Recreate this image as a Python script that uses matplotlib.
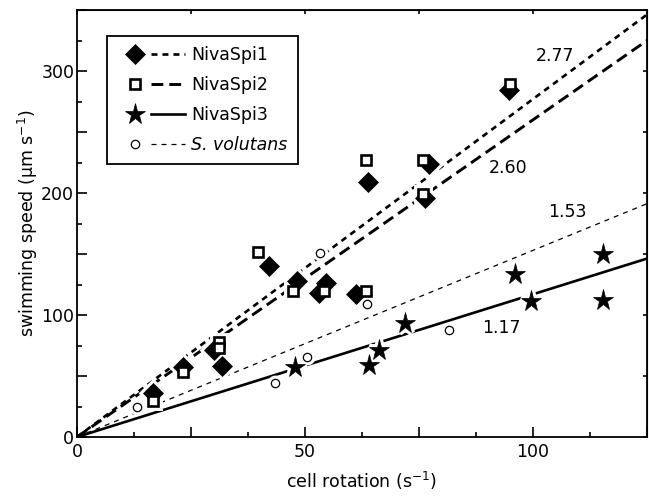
import numpy as np
import matplotlib
matplotlib.use("Agg")
import matplotlib.pyplot as plt
from matplotlib.ticker import MultipleLocator, FuncFormatter
from matplotlib.lines import Line2D
from matplotlib.legend_handler import HandlerTuple

plt.rcParams['font.family'] = ['DejaVu Sans']
plt.rcParams['mathtext.default'] = 'regular'
plt.rcParams['lines.scale_dashes'] = False

# data
spi1_x = [16.7, 23.3, 30.1, 31.7, 42.2, 48.3, 54.7, 53.1, 61.2, 63.8, 77.2, 76.3, 94.7]
spi1_y = [35.9, 57.2, 71.5, 58.3, 139.9, 127.6, 126.3, 118, 117.5, 209, 223.5, 196, 284.6]

spi2_x = [16.7, 23.3, 31.2, 31.2, 39.6, 47.3, 54.1, 63.4, 63.3, 75.9, 75.9, 94.9]
spi2_y = [29.8, 52.9, 78, 73, 151.4, 119.4, 119.4, 119.4, 227, 227, 199.4, 289.2]

spi3_x = [47.8, 64, 66.2, 72, 96, 99.5, 115.4, 115.4]
spi3_y = [57.5, 59.2, 71.5, 93.4, 133.7, 111.7, 150.1, 112.6]

svol_x = [13.1, 43.5, 50.4, 53.3, 63.6, 81.5]
svol_y = [24.9, 44.4, 65.7, 150.9, 109, 87.4]

names = ['NivaSpi1', 'NivaSpi2', 'NivaSpi3', 'S. volutans']
slopes = [2.77, 2.60, 1.17, 1.53]
slope_labels = ['2.77', '2.60', '1.17', '1.53']
label_pos = [(104.8, 312.5), (94.6, 220.8), (93.1, 89.3), (107.6, 184.3)]

fs = 12.5

fig = plt.figure(figsize=(6.49, 4.97), dpi=100)
ax = fig.add_axes([77/649, 60/497, 570/649, 427/497])

# marker styles
mk = [
    dict(marker='D', ms=10.3, mfc='k', mec='k', mew=0.5),
    dict(marker='s', ms=7.2, mfc='white', mec='k', mew=1.9),
    dict(marker='*', ms=15.5, mfc='k', mec='k', mew=0.5),
    dict(marker='o', ms=6.0, mfc='white', mec='k', mew=0.9),
]
ln = [
    dict(color='k', lw=1.9, ls=(0, (4.3, 3.6))),
    dict(color='k', lw=2.1, ls=(0, (8.5, 4.3))),
    dict(color='k', lw=1.9, ls='-'),
    dict(color='k', lw=0.9, ls=(0, (3.6, 3.6))),
]
xs = [spi1_x, spi2_x, spi3_x, svol_x]
ys = [spi1_y, spi2_y, spi3_y, svol_y]
mz = [4, 5, 4, 5]

xx = np.array([0, 125])
for i in range(4):
    ax.plot(xx, slopes[i]*xx, zorder=2, **ln[i])
    # white halo that cuts the lines round the markers
    ax.plot(xs[i], ys[i], ls='none', marker=mk[i]['marker'], ms=mk[i]['ms'],
            mfc='white', mec='white', mew=mk[i]['mew']+4.5, zorder=3)
    ax.plot(xs[i], ys[i], ls='none', zorder=mz[i], **mk[i])

for lab, (px, py) in zip(slope_labels, label_pos):
    ax.text(px, py, lab, fontsize=fs, ha='center', va='center', zorder=6)

ax.set_xlim(0, 125)
ax.set_ylim(0, 350)

ax.xaxis.set_major_locator(MultipleLocator(25))
ax.xaxis.set_minor_locator(MultipleLocator(12.5))
ax.yaxis.set_major_locator(MultipleLocator(50))
ax.yaxis.set_minor_locator(MultipleLocator(25))
ax.xaxis.set_major_formatter(FuncFormatter(lambda v, p: f'{v:g}' if v % 50 == 0 else ''))
ax.yaxis.set_major_formatter(FuncFormatter(lambda v, p: f'{v:g}' if v % 100 == 0 else ''))
ax.tick_params(which='major', direction='in', length=7, width=1.2, labelsize=fs, pad=4)
ax.tick_params(which='minor', direction='in', length=3.6, width=1.2)
ax.tick_params(axis='y', pad=2)

secy = ax.secondary_yaxis('right')
secy.yaxis.set_major_locator(MultipleLocator(50))
secy.tick_params(direction='in', length=3, width=1.2, labelright=False)
secx = ax.secondary_xaxis('top')
secx.xaxis.set_major_locator(MultipleLocator(25))
secx.tick_params(direction='in', length=3, width=1.2, labeltop=False)
for s in ax.spines.values():
    s.set_linewidth(1.3)

ax.set_xlabel('cell rotation (s$^{-1}$)', fontsize=fs, labelpad=7)
ax.set_ylabel('swimming speed (µm s$^{-1}$)', fontsize=fs, labelpad=1)

handles = []
for i in range(4):
    h_m = Line2D([], [], ls='none', **mk[i])
    h_l = Line2D([], [], **ln[i])
    handles.append((h_m, h_l))
leg = ax.legend(handles, names, loc='upper left', bbox_to_anchor=(0.053, 0.939),
                borderaxespad=0,
                handler_map={tuple: HandlerTuple(ndivide=None, pad=0)},
                handlelength=3.9, fontsize=fs, fancybox=False, framealpha=1,
                edgecolor='k', borderpad=0.6, labelspacing=0.68, handletextpad=0.35)
leg.get_frame().set_linewidth(1.3)
leg.get_texts()[3].set_style('italic')

fig.savefig('out.png', dpi=100)
